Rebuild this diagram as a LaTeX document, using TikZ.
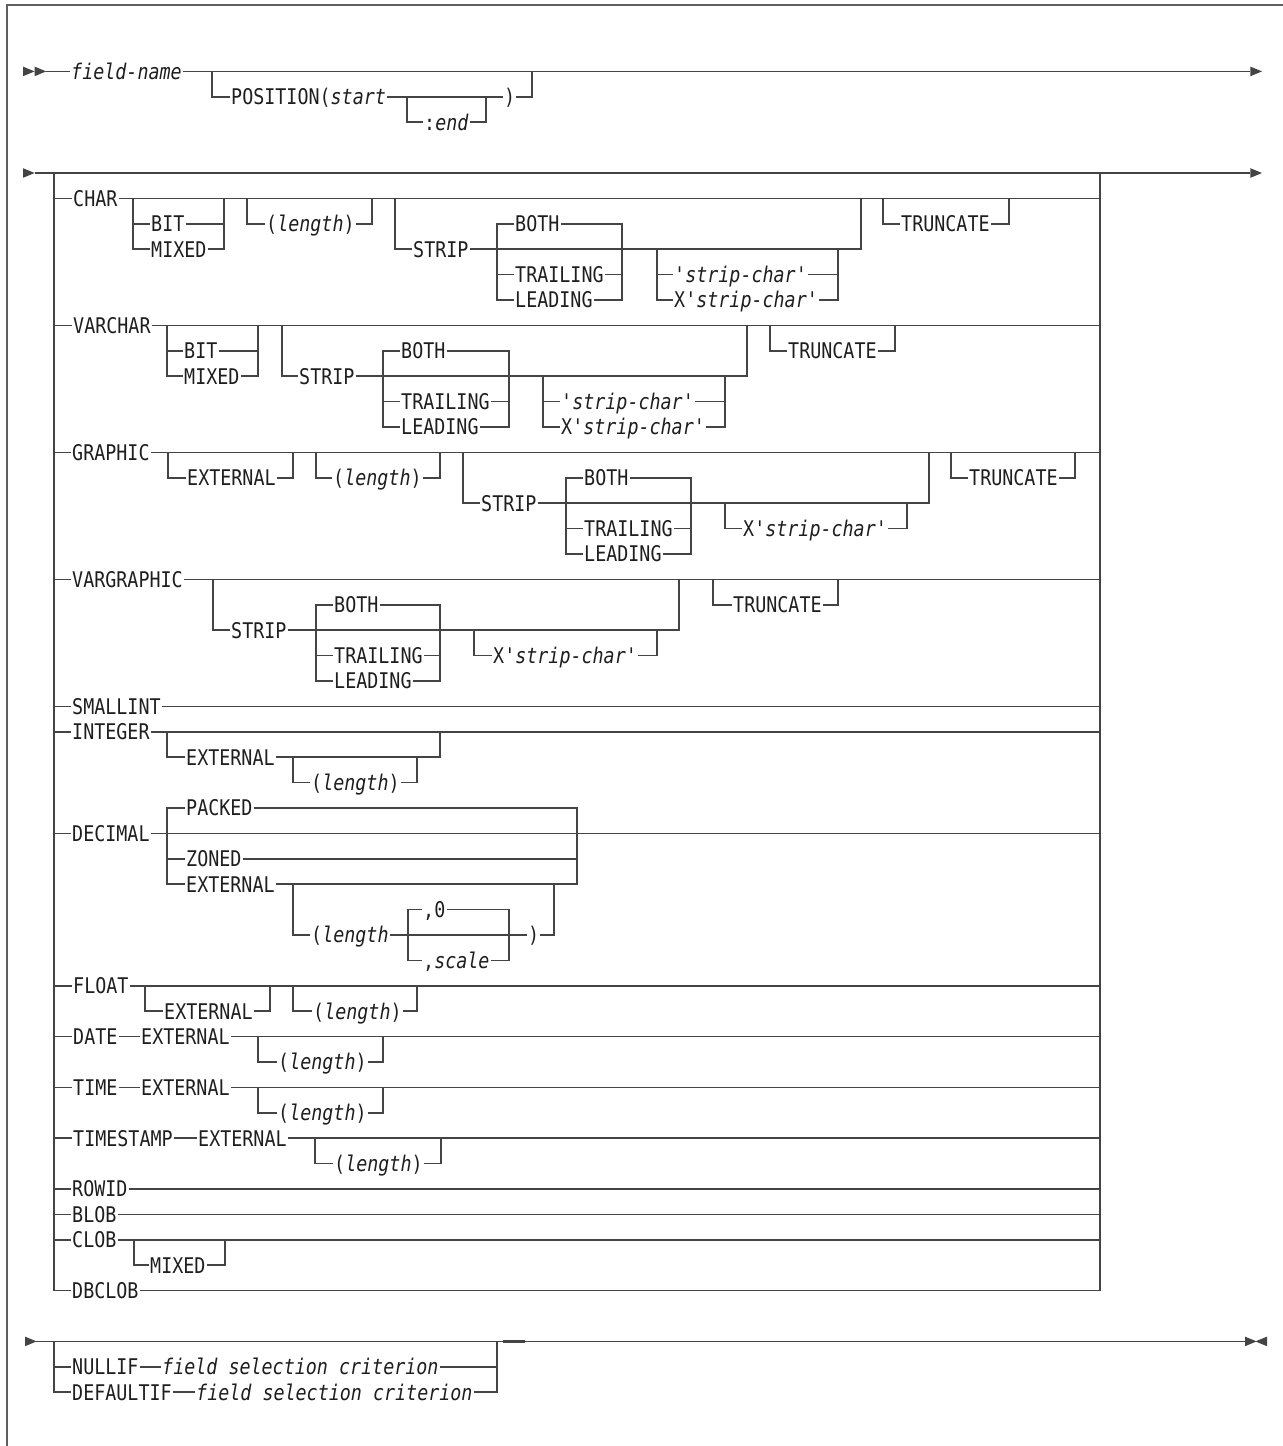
\documentclass[tikz,border=0pt]{standalone}
\usepackage{fontspec}
\setmonofont[FakeStretch=0.85]{DejaVu Sans Mono}
\definecolor{railcolor}{RGB}{68,68,68}
\definecolor{labelcolor}{RGB}{30,30,30}
\definecolor{framecolor}{RGB}{95,95,95}
\tikzset{
    rail/.style={draw=railcolor, line width=0.8pt},
    frameline/.style={draw=framecolor, line width=0.8pt},
    kw/.style={
        anchor=west,
        inner sep=0pt,
        inner xsep=0.4pt,
        text height=7.9pt,
        text depth=0pt,
        text=labelcolor,
        font=\fontsize{10.8}{12}\ttfamily
    },
    headr/.pic={\fill[railcolor] (0pt,-2.4pt) -- (5.8pt,0pt) -- (0pt,2.4pt) -- cycle;},
    headl/.pic={\fill[railcolor] (0pt,-2.4pt) -- (-5.8pt,0pt) -- (0pt,2.4pt) -- cycle;}
}
\begin{document}
\begin{tikzpicture}[x=0.5pt, y=-12.7pt]
    \useasboundingbox (0,-6.811) rectangle (1283,50.118);
    \draw[frameline] (1283,-6.614) -- (7,-6.614) -- (7,50.118);

    % Field name and position
    \node[kw] (fname) at (70,-4) {\textit{field-name}};
    \node[kw] (pos) at (230,-3) {POSITION(\textit{start}};
    \node[kw] (posend) at (423,-2) {:\textit{end}};
    \node[kw] (posclose) at (503,-3) {)};
    \pic at (23,-4) {headr};
    \pic at (34.6,-4) {headr};
    \pic at (1250.4,-4) {headr};
    \draw[rail] (46,-4) -- (fname.west);
    \draw[rail] (fname.east) -- (1250.4,-4);
    \draw[rail] (212,-4) |- (pos.west);
    \draw[rail] (pos.east) -- (posclose.west);
    \draw[rail] (posclose.east) -| (532,-4);
    \draw[rail] (407,-3) |- (posend.west);
    \draw[rail] (posend.east) -| (486,-3);

    % Data type main line
    \pic at (23,0) {headr};
    \pic at (1250.4,0) {headr};
    \draw[rail] (34.6,0) -- (1250.4,0);

    % CHAR
    \node[kw] (char) at (72,1) {CHAR};
    \node[kw] (cbit) at (150,2) {BIT};
    \node[kw] (cmixed) at (150,3) {MIXED};
    \node[kw] (clen) at (265,2) {(\textit{length})};
    \node[kw] (cstrip) at (412,3) {STRIP};
    \node[kw] (cboth) at (514,2) {BOTH};
    \node[kw] (ctrail) at (514,4) {TRAILING};
    \node[kw] (clead) at (514,5) {LEADING};
    \node[kw] (cschar) at (673,4) {\textit{'strip-char'}};
    \node[kw] (cxchar) at (673,5) {X'\textit{strip-char'}};
    \node[kw] (ctrunc) at (900,2) {TRUNCATE};
    \draw[rail] (54,1) -- (char.west);
    \draw[rail] (char.east) -- (1100,1);
    \draw[rail] (133,1) |- (cbit.west);
    \draw[rail] (cbit.east) -| (224,1);
    \draw[rail] (133,2) |- (cmixed.west);
    \draw[rail] (cmixed.east) -| (224,2);
    \draw[rail] (247,1) |- (clen.west);
    \draw[rail] (clen.east) -| (372,1);
    \draw[rail] (395,1) |- (cstrip.west);
    \draw[rail] (cstrip.east) -| (861,1);
    \draw[rail] (497,3) |- (cboth.west);
    \draw[rail] (cboth.east) -| (622,3);
    \draw[rail] (497,3) |- (ctrail.west);
    \draw[rail] (ctrail.east) -| (622,3);
    \draw[rail] (497,4) |- (clead.west);
    \draw[rail] (clead.east) -| (622,4);
    \draw[rail] (657,3) |- (cschar.west);
    \draw[rail] (cschar.east) -| (838,3);
    \draw[rail] (657,4) |- (cxchar.west);
    \draw[rail] (cxchar.east) -| (838,4);
    \draw[rail] (883,1) |- (ctrunc.west);
    \draw[rail] (ctrunc.east) -| (1009,1);

    % VARCHAR
    \node[kw] (vchar) at (72,6) {VARCHAR};
    \node[kw] (vbit) at (183,7) {BIT};
    \node[kw] (vmixed) at (183,8) {MIXED};
    \node[kw] (vstrip) at (298,8) {STRIP};
    \node[kw] (vboth) at (400,7) {BOTH};
    \node[kw] (vtrail) at (400,9) {TRAILING};
    \node[kw] (vlead) at (400,10) {LEADING};
    \node[kw] (vschar) at (560,9) {\textit{'strip-char'}};
    \node[kw] (vxchar) at (560,10) {X'\textit{strip-char'}};
    \node[kw] (vtrunc) at (787,7) {TRUNCATE};
    \draw[rail] (54,6) -- (vchar.west);
    \draw[rail] (vchar.east) -- (1100,6);
    \draw[rail] (167,6) |- (vbit.west);
    \draw[rail] (vbit.east) -| (258,6);
    \draw[rail] (167,7) |- (vmixed.west);
    \draw[rail] (vmixed.east) -| (258,7);
    \draw[rail] (282,6) |- (vstrip.west);
    \draw[rail] (vstrip.east) -| (747,6);
    \draw[rail] (383,8) |- (vboth.west);
    \draw[rail] (vboth.east) -| (509,8);
    \draw[rail] (383,8) |- (vtrail.west);
    \draw[rail] (vtrail.east) -| (509,8);
    \draw[rail] (383,9) |- (vlead.west);
    \draw[rail] (vlead.east) -| (509,9);
    \draw[rail] (543,8) |- (vschar.west);
    \draw[rail] (vschar.east) -| (725,8);
    \draw[rail] (543,9) |- (vxchar.west);
    \draw[rail] (vxchar.east) -| (725,9);
    \draw[rail] (770,6) |- (vtrunc.west);
    \draw[rail] (vtrunc.east) -| (895,6);

    % GRAPHIC
    \node[kw] (gr) at (71,11) {GRAPHIC};
    \node[kw] (grext) at (186,12) {EXTERNAL};
    \node[kw] (grlen) at (332,12) {(\textit{length})};
    \node[kw] (grstrip) at (480,13) {STRIP};
    \node[kw] (grboth) at (583,12) {BOTH};
    \node[kw] (grtrail) at (583,14) {TRAILING};
    \node[kw] (grlead) at (583,15) {LEADING};
    \node[kw] (grxchar) at (742,14) {X'\textit{strip-char'}};
    \node[kw] (grtrunc) at (968,12) {TRUNCATE};
    \draw[rail] (54,11) -- (gr.west);
    \draw[rail] (gr.east) -- (1100,11);
    \draw[rail] (168,11) |- (grext.west);
    \draw[rail] (grext.east) -| (293,11);
    \draw[rail] (316,11) |- (grlen.west);
    \draw[rail] (grlen.east) -| (440,11);
    \draw[rail] (463,11) |- (grstrip.west);
    \draw[rail] (grstrip.east) -| (929,11);
    \draw[rail] (566,13) |- (grboth.west);
    \draw[rail] (grboth.east) -| (691,13);
    \draw[rail] (566,13) |- (grtrail.west);
    \draw[rail] (grtrail.east) -| (691,13);
    \draw[rail] (566,14) |- (grlead.west);
    \draw[rail] (grlead.east) -| (691,14);
    \draw[rail] (725,13) |- (grxchar.west);
    \draw[rail] (grxchar.east) -| (907,13);
    \draw[rail] (951,11) |- (grtrunc.west);
    \draw[rail] (grtrunc.east) -| (1075,11);

    % VARGRAPHIC
    \node[kw] (vgr) at (71,16) {VARGRAPHIC};
    \node[kw] (vgstrip) at (230,18) {STRIP};
    \node[kw] (vgboth) at (333,17) {BOTH};
    \node[kw] (vgtrail) at (333,19) {TRAILING};
    \node[kw] (vglead) at (333,20) {LEADING};
    \node[kw] (vgxchar) at (492,19) {X'\textit{strip-char'}};
    \node[kw] (vgtrunc) at (732,17) {TRUNCATE};
    \draw[rail] (54,16) -- (vgr.west);
    \draw[rail] (vgr.east) -- (1100,16);
    \draw[rail] (213,16) |- (vgstrip.west);
    \draw[rail] (vgstrip.east) -| (679,16);
    \draw[rail] (316,18) |- (vgboth.west);
    \draw[rail] (vgboth.east) -| (440,18);
    \draw[rail] (316,18) |- (vgtrail.west);
    \draw[rail] (vgtrail.east) -| (440,18);
    \draw[rail] (316,19) |- (vglead.west);
    \draw[rail] (vglead.east) -| (440,19);
    \draw[rail] (474,18) |- (vgxchar.west);
    \draw[rail] (vgxchar.east) -| (657,18);
    \draw[rail] (713,16) |- (vgtrunc.west);
    \draw[rail] (vgtrunc.east) -| (838,16);

    % SMALLINT and INTEGER
    \node[kw] (small) at (71,21) {SMALLINT};
    \node[kw] (int) at (71,22) {INTEGER};
    \node[kw] (intext) at (185,23) {EXTERNAL};
    \node[kw] (intlen) at (310,24) {(\textit{length})};
    \draw[rail] (54,21) -- (small.west);
    \draw[rail] (small.east) -- (1100,21);
    \draw[rail] (54,22) -- (int.west);
    \draw[rail] (int.east) -- (1100,22);
    \draw[rail] (167,22) |- (intext.west);
    \draw[rail] (intext.east) -| (440,22);
    \draw[rail] (293,23) |- (intlen.west);
    \draw[rail] (intlen.east) -| (417,23);

    % DECIMAL
    \node[kw] (dec) at (71,26) {DECIMAL};
    \node[kw] (dpack) at (185,25) {PACKED};
    \node[kw] (dzone) at (185,27) {ZONED};
    \node[kw] (dext) at (185,28) {EXTERNAL};
    \node[kw] (dlen) at (310,30) {(\textit{length}};
    \node[kw] (dzero) at (422,29) {,0};
    \node[kw] (dscale) at (422,31) {,\textit{scale}};
    \node[kw] (dclose) at (527,30) {)};
    \draw[rail] (54,26) -- (dec.west);
    \draw[rail] (dec.east) -- (1100,26);
    \draw[rail] (167,26) |- (dpack.west);
    \draw[rail] (dpack.east) -| (577,26);
    \draw[rail] (167,26) |- (dzone.west);
    \draw[rail] (dzone.east) -| (577,26);
    \draw[rail] (167,27) |- (dext.west);
    \draw[rail] (dext.east) -| (577,27);
    \draw[rail] (293,28) |- (dlen.west);
    \draw[rail] (dlen.east) -- (dclose.west);
    \draw[rail] (dclose.east) -| (554,28);
    \draw[rail] (408,30) |- (dzero.west);
    \draw[rail] (dzero.east) -| (509,30);
    \draw[rail] (408,30) |- (dscale.west);
    \draw[rail] (dscale.east) -| (509,30);

    % FLOAT
    \node[kw] (flt) at (72,32) {FLOAT};
    \node[kw] (fltext) at (163,33) {EXTERNAL};
    \node[kw] (fltlen) at (312,33) {(\textit{length})};
    \draw[rail] (54,32) -- (flt.west);
    \draw[rail] (flt.east) -- (1100,32);
    \draw[rail] (145,32) |- (fltext.west);
    \draw[rail] (fltext.east) -| (270,32);
    \draw[rail] (293,32) |- (fltlen.west);
    \draw[rail] (fltlen.east) -| (417,32);

    % DATE, TIME, TIMESTAMP
    \node[kw] (date) at (72,34) {DATE};
    \node[kw] (dateext) at (140,34) {EXTERNAL};
    \node[kw] (datelen) at (277,35) {(\textit{length})};
    \node[kw] (time) at (72,36) {TIME};
    \node[kw] (timeext) at (140,36) {EXTERNAL};
    \node[kw] (timelen) at (277,37) {(\textit{length})};
    \node[kw] (stamp) at (72,38) {TIMESTAMP};
    \node[kw] (stampext) at (197,38) {EXTERNAL};
    \node[kw] (stamplen) at (333,39) {(\textit{length})};
    \draw[rail] (54,34) -- (date.west);
    \draw[rail] (date.east) -- (dateext.west);
    \draw[rail] (dateext.east) -- (1100,34);
    \draw[rail] (258,34) |- (datelen.west);
    \draw[rail] (datelen.east) -| (383,34);
    \draw[rail] (54,36) -- (time.west);
    \draw[rail] (time.east) -- (timeext.west);
    \draw[rail] (timeext.east) -- (1100,36);
    \draw[rail] (258,36) |- (timelen.west);
    \draw[rail] (timelen.east) -| (383,36);
    \draw[rail] (54,38) -- (stamp.west);
    \draw[rail] (stamp.east) -- (stampext.west);
    \draw[rail] (stampext.east) -- (1100,38);
    \draw[rail] (315,38) |- (stamplen.west);
    \draw[rail] (stamplen.east) -| (441,38);

    % ROWID, BLOB, CLOB, DBCLOB
    \node[kw] (rowid) at (71,40) {ROWID};
    \node[kw] (blob) at (71,41) {BLOB};
    \node[kw] (clob) at (71,42) {CLOB};
    \node[kw] (clobmixed) at (149,43) {MIXED};
    \node[kw] (dbclob) at (71,44) {DBCLOB};
    \draw[rail] (54,40) -- (rowid.west);
    \draw[rail] (rowid.east) -- (1100,40);
    \draw[rail] (54,41) -- (blob.west);
    \draw[rail] (blob.east) -- (1100,41);
    \draw[rail] (54,42) -- (clob.west);
    \draw[rail] (clob.east) -- (1100,42);
    \draw[rail] (134,42) |- (clobmixed.west);
    \draw[rail] (clobmixed.east) -| (225,42);
    \draw[rail] (54,0) |- (dbclob.west);
    \draw[rail] (dbclob.east) -| (1100,0);

    % NULLIF / DEFAULTIF
    \node[kw] (nullif) at (71,47) {NULLIF};
    \node[kw] (nullcrit) at (161,47) {\textit{field selection criterion}};
    \node[kw] (defif) at (71,48) {DEFAULTIF};
    \node[kw] (defcrit) at (195,48) {\textit{field selection criterion}};
    \coordinate (stop) at (1245,46);
    \pic at (25,46) {headr};
    \pic at (stop) {headr};
    \pic at (1267,46) {headl};
    \draw[rail] (36,46) -- (stop);
    \draw[rail] (54,46) |- (nullif.west);
    \draw[rail] (nullif.east) -- (nullcrit.west);
    \draw[rail] (nullcrit.east) -| (497,46);
    \draw[rail] (54,47) |- (defif.west);
    \draw[rail] (defif.east) -- (defcrit.west);
    \draw[rail] (defcrit.east) -| (497,47);
    \draw[rail, line width=1.1pt] (503,46) -- (525,46);
\end{tikzpicture}
\end{document}
